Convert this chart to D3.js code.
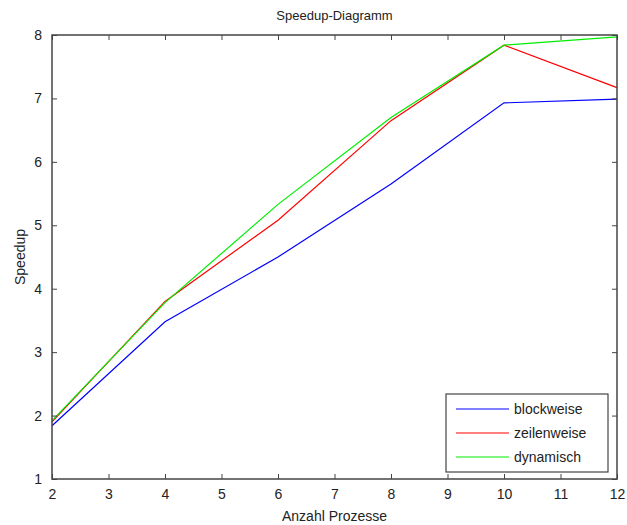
<!DOCTYPE html>
<html>
<head>
<meta charset="utf-8">
<script src="https://cdn.jsdelivr.net/npm/d3@7"></script>
<style>
  body { margin: 0; background: #fff; }
  text { font-family: "Liberation Sans", Arial, sans-serif; fill: #222; }
</style>
</head>
<body>
<div id="chart"></div>
<script>
// data
const prozesse = [2, 4, 6, 8, 10, 12];
const blockweise = [1.84, 3.48, 4.5, 5.65, 6.93, 6.99];
const zeilenweise = [1.9, 3.8, 5.08, 6.65, 7.84, 7.17];
const dynamisch = [1.92, 3.78, 5.33, 6.7, 7.84, 7.97];
const seriesNames = ["blockweise", "zeilenweise", "dynamisch"];
const seriesColors = ["#0000ff", "#ff0000", "#00ee00"];
const xTicks = [2, 3, 4, 5, 6, 7, 8, 9, 10, 11, 12];
const yTicks = [1, 2, 3, 4, 5, 6, 7, 8];

const W = 627, H = 525;
const margin = {top: 35, right: 10, bottom: 46, left: 52};
const width = W - margin.left - margin.right,
      height = H - margin.top - margin.bottom;

const svg = d3.select("#chart").append("svg")
  .attr("width", W).attr("height", H);

const g = svg.append("g")
  .attr("transform", `translate(${margin.left},${margin.top})`);

const x = d3.scaleLinear().domain([2, 12]).range([0, width]);
const y = d3.scaleLinear().domain([1, 8]).range([height, 0]);

// lines
const allSeries = [blockweise, zeilenweise, dynamisch];
const line = d3.line()
  .x((d, i) => x(prozesse[i]))
  .y(d => y(d));

g.selectAll("path.series")
  .data(allSeries)
  .join("path")
    .attr("class", "series")
    .attr("fill", "none")
    .attr("stroke", (d, i) => seriesColors[i])
    .attr("stroke-width", 1.2)
    .attr("d", line);

// axes, ticks pointing inward
const axisColor = "#444";
function styleAxis(sel, showLabels) {
  sel.select(".domain").remove();
  sel.selectAll(".tick line").attr("stroke", axisColor);
  sel.selectAll(".tick text")
    .style("font-size", "14px")
    .attr("fill", "#222")
    .style("display", showLabels ? null : "none");
}

g.append("g")
  .attr("transform", `translate(0,${height})`)
  .call(d3.axisBottom(x).tickValues(xTicks).tickFormat(d3.format("d")).tickSizeInner(-5).tickPadding(10))
  .call(s => styleAxis(s, true));

g.append("g")
  .call(d3.axisTop(x).tickValues(xTicks).tickSizeInner(-5))
  .call(s => styleAxis(s, false));

g.append("g")
  .call(d3.axisLeft(y).tickValues(yTicks).tickFormat(d3.format("d")).tickSizeInner(-5).tickPadding(10))
  .call(s => styleAxis(s, true));

g.append("g")
  .attr("transform", `translate(${width},0)`)
  .call(d3.axisRight(y).tickValues(yTicks).tickSizeInner(-5))
  .call(s => styleAxis(s, false));

g.append("rect")
  .attr("width", width).attr("height", height)
  .attr("fill", "none")
  .attr("stroke", axisColor)
  .attr("stroke-width", 1.5);

// labels
svg.append("text")
  .attr("x", margin.left + width / 2).attr("y", 20)
  .attr("text-anchor", "middle")
  .style("font-size", "13px")
  .text("Speedup-Diagramm");

svg.append("text")
  .attr("x", margin.left + width / 2).attr("y", 521)
  .attr("text-anchor", "middle")
  .style("font-size", "14px")
  .text("Anzahl Prozesse");

svg.append("text")
  .attr("transform", `translate(25,${margin.top + height / 2}) rotate(-90)`)
  .attr("text-anchor", "middle")
  .style("font-size", "14px")
  .text("Speedup");

// legend
const legend = svg.append("g").attr("transform", "translate(446,394)");
legend.append("rect")
  .attr("width", 162).attr("height", 78)
  .attr("fill", "#fff")
  .attr("stroke", axisColor)
  .attr("stroke-width", 1.2);

const items = legend.selectAll("g.item")
  .data(seriesNames)
  .join("g")
    .attr("class", "item")
    .attr("transform", (d, i) => `translate(0,${15 + i * 24})`);

items.append("line")
  .attr("x1", 10).attr("x2", 63)
  .attr("stroke", (d, i) => seriesColors[i])
  .attr("stroke-width", 1.2);

items.append("text")
  .attr("x", 68).attr("y", 5)
  .style("font-size", "14px")
  .text(d => d);
</script>
</body>
</html>
